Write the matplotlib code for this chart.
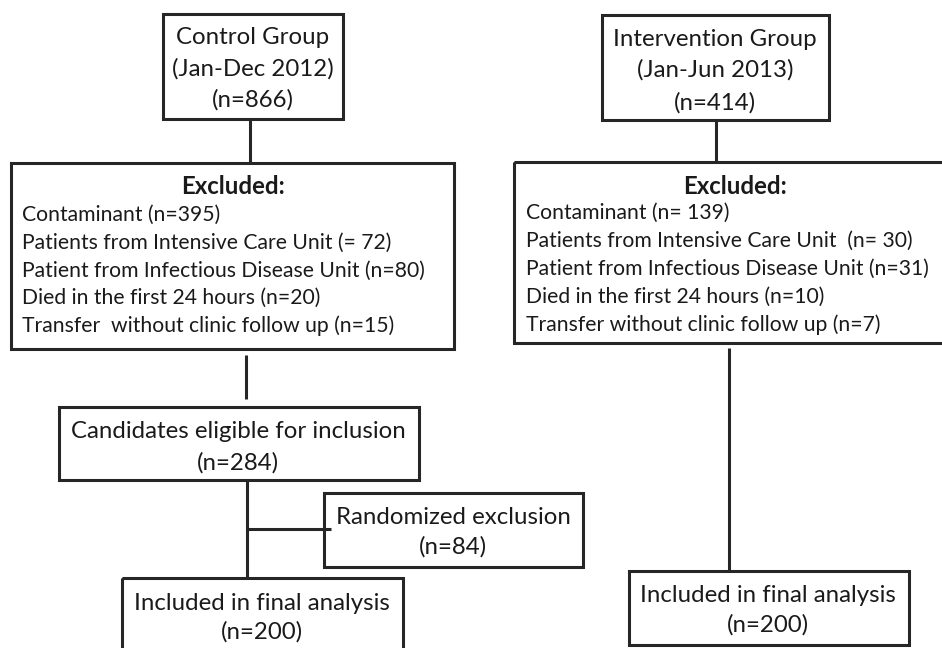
import matplotlib
matplotlib.use("Agg")
import matplotlib.pyplot as plt
from matplotlib.patches import Rectangle

plt.rcParams['font.family'] = ['Lato', 'DejaVu Sans']

# --- content ---
control_title = ["Control Group", "(Jan-Dec 2012)", "(n=866)"]
interv_title = ["Intervention Group", "(Jan-Jun 2013)", "(n=414)"]
excluded_header = "Excluded:"
control_excluded = [
    "Contaminant (n=395)",
    "Patients from Intensive Care Unit (= 72)",
    "Patient from Infectious Disease Unit (n=80)",
    "Died in the first 24 hours (n=20)",
    "Transfer  without clinic follow up (n=15)",
]
interv_excluded = [
    "Contaminant (n= 139)",
    "Patients from Intensive Care Unit  (n= 30)",
    "Patient from Infectious Disease Unit (n=31)",
    "Died in the first 24 hours (n=10)",
    "Transfer without clinic follow up (n=7)",
]
candidates = ["Candidates eligible for inclusion", "(n=284)"]
randomized = ["Randomized exclusion", "(n=84)"]
included = ["Included in final analysis", "(n=200)"]

W, H = 942, 648
fig = plt.figure(figsize=(W / 100, H / 100), dpi=100)
ax = fig.add_axes([0, 0, 1, 1])
ax.set_xlim(0, W)
ax.set_ylim(H, 0)
ax.axis('off')

EC = '#262626'
TC = '#1a1a1a'
LW = 2.2
FS_BOX = 17.3
FS_LIST = 15.2


def box(x0, y0, x1, y1):
    ax.add_patch(Rectangle((x0, y0), x1 - x0, y1 - y0, fill=False,
                           ec=EC, lw=LW, clip_on=False, joinstyle='miter'))


def line(xs, ys):
    ax.plot(xs, ys, color=EC, lw=LW, solid_capstyle='butt')


def centered(lines, cx, ys):
    for t, y in zip(lines, ys):
        ax.text(cx, y, t, ha='center', va='center', fontsize=FS_BOX, color=TC)


def left(lines, x, ys):
    for t, y in zip(lines, ys):
        ax.text(x, y, t, ha='left', va='center', fontsize=FS_LIST, color=TC)


# Control column
box(163, 14, 343, 119)
centered(control_title, 253, [38, 69, 100])
line([250, 250], [119, 163])
box(11, 163, 454, 349)
ax.text(233, 187, excluded_header, ha='center', va='center', fontsize=FS_BOX,
        fontweight='bold', color=TC)
left(control_excluded, 22, [215, 243, 271, 298, 326])
line([246, 246], [355, 399])
box(59, 407, 419, 480)
centered(candidates, 238, [431, 463])
line([247, 247], [480, 578])
line([247, 331], [529, 529])
box(324, 493, 583, 567)
centered(randomized, 453, [517, 547])
box(122, 578, 403, 660)
centered(included, 262, [603, 632])

# Intervention column
box(602, 15, 829, 120)
centered(interv_title, 715, [40, 70, 103])
line([716, 716], [120, 162])
box(514, 162, 960, 343)
ax.text(735, 186, excluded_header, ha='center', va='center', fontsize=FS_BOX,
        fontweight='bold', color=TC)
left(interv_excluded, 526, [213, 241, 269, 297, 325])
line([729, 729], [348, 571])
box(629, 571, 909, 645)
centered(included, 768, [596, 625])

fig.savefig('out.png', dpi=100, facecolor='white')
